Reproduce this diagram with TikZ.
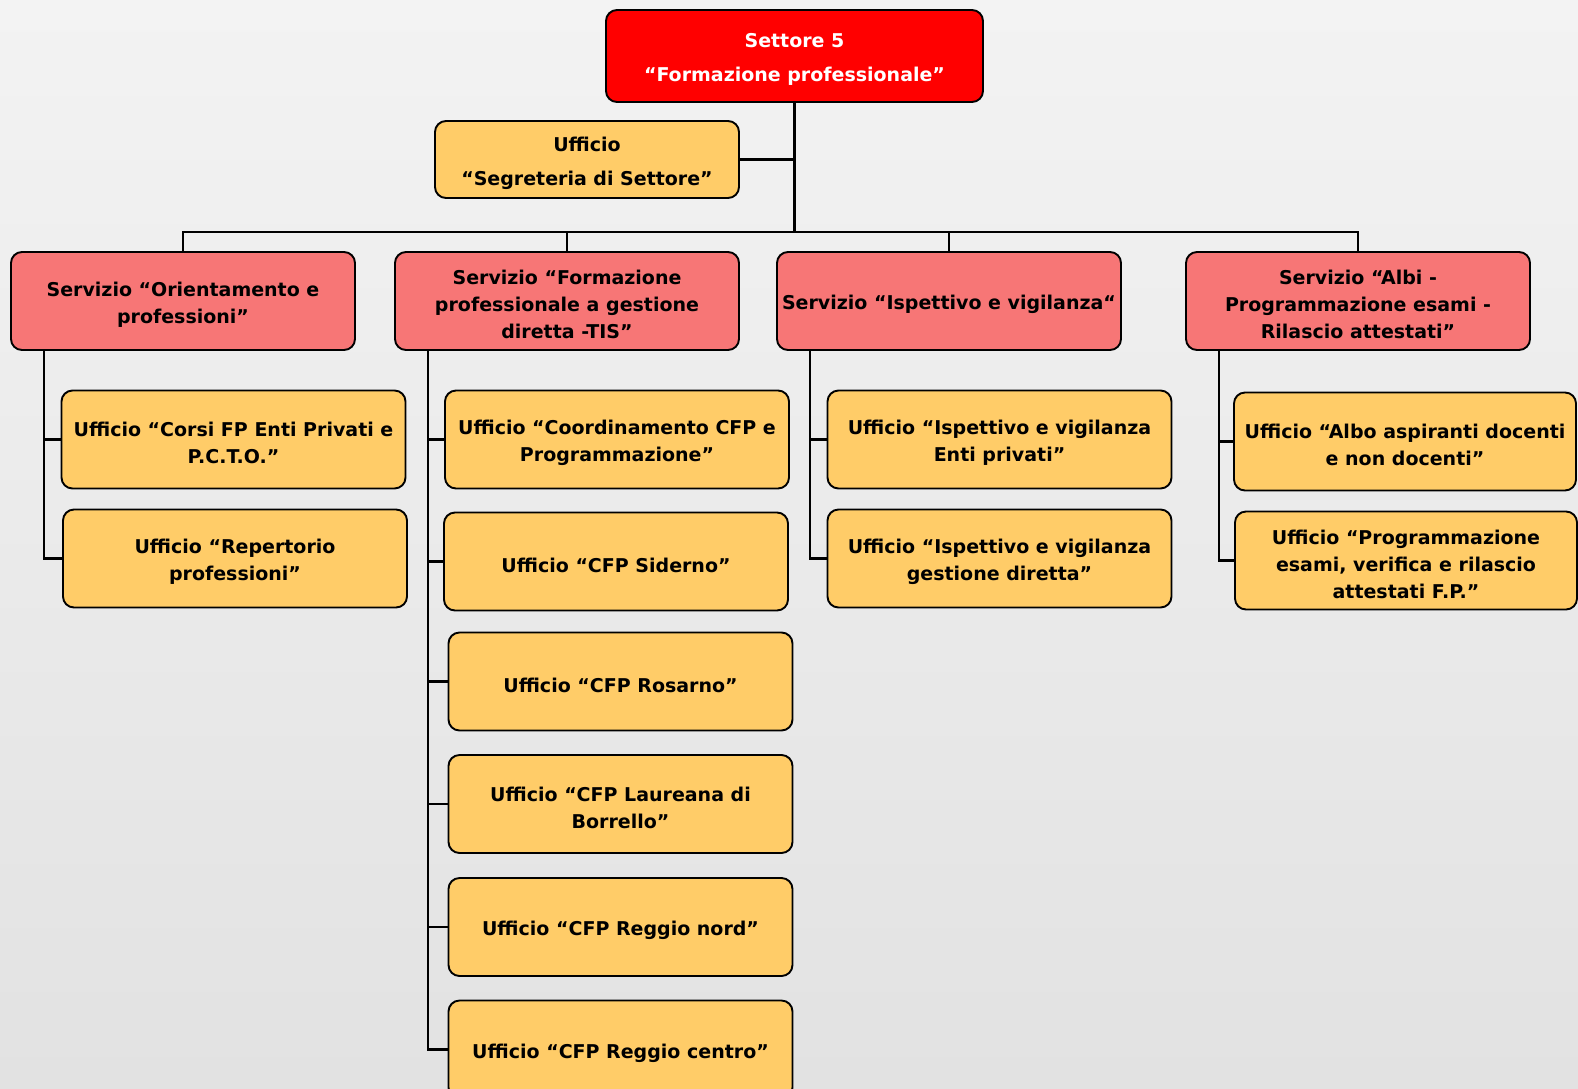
\documentclass[tikz,border=0pt]{standalone}
\usepackage{fontspec}
\setmainfont{DejaVu Sans}
\usetikzlibrary{calc}
\definecolor{bgtop}{RGB}{243,243,243}
\definecolor{bgbot}{RGB}{226,226,226}
\definecolor{topred}{RGB}{255,0,0}
\definecolor{srvpink}{RGB}{247,118,118}
\definecolor{uffyel}{RGB}{255,204,104}
\newcommand\textlift{\rule{0pt}{21.5pt}}
\begin{document}
\begin{tikzpicture}[x=1pt,y=-1pt,
  every node/.style={font=\bfseries\fontsize{19}{27}\selectfont, align=center, inner sep=0pt},
  basebox/.style={draw=black, line width=1.9pt, rounded corners=11pt},
  topbox/.style={basebox, fill=topred, text=white, minimum width=377pt, minimum height=92pt, font=\bfseries\fontsize{19}{34}\selectfont},
  segbox/.style={basebox, fill=uffyel, minimum width=304pt, minimum height=77pt, font=\bfseries\fontsize{19}{34}\selectfont},
  srvbox/.style={basebox, fill=srvpink, minimum width=344pt, minimum height=98pt},
  uffbox/.style={basebox, fill=uffyel, minimum width=344pt, minimum height=98pt},
  conn/.style={draw=black, line width=2.2pt}
]
\useasboundingbox (0,0) rectangle (1578,1088);
\clip (0,0) rectangle (1578,1088);
\shade[top color=bgtop, bottom color=bgbot] (0,0) rectangle (1578,1088);

\coordinate (bus) at (794.5,232);

% nodes
\node[topbox] (top) at (794.5,56) {\textlift Settore 5\\“Formazione professionale”};
\node[segbox] (seg) at (587,159.5) {\textlift Ufficio\\“Segreteria di Settore”};

\node[srvbox] (s1) at (183,301) {\textlift Servizio “Orientamento e\\professioni”};
\node[srvbox] (s2) at (567,301) {\textlift Servizio “Formazione\\professionale a gestione\\diretta -TIS”};
\node[srvbox] (s3) at (949,301) {\textlift Servizio “Ispettivo e vigilanza“};
\node[srvbox] (s4) at (1358,301) {\textlift Servizio “Albi -\\Programmazione esami -\\Rilascio attestati”};

\node[uffbox] (c1a) at (233.5,439.5) {\textlift Ufficio “Corsi FP Enti Privati e\\P.C.T.O.”};
\node[uffbox] (c1b) at (235,558.5) {\textlift Ufficio “Repertorio\\professioni”};

\node[uffbox] (c2a) at (617,439.5) {\textlift Ufficio “Coordinamento CFP e\\Programmazione”};
\node[uffbox] (c2b) at (616,561.5) {\textlift Ufficio “CFP Siderno”};
\node[uffbox] (c2c) at (620.5,681.5) {\textlift Ufficio “CFP Rosarno”};
\node[uffbox] (c2d) at (620.5,804) {\textlift Ufficio “CFP Laureana di\\Borrello”};
\node[uffbox] (c2e) at (620.5,927) {\textlift Ufficio “CFP Reggio nord”};
\node[uffbox] (c2f) at (620.5,1049.5) {\textlift Ufficio “CFP Reggio centro”};

\node[uffbox] (c3a) at (999.5,439.5) {\textlift Ufficio “Ispettivo e vigilanza\\Enti privati”};
\node[uffbox] (c3b) at (999.5,558.5) {\textlift Ufficio “Ispettivo e vigilanza\\gestione diretta”};

\node[uffbox, minimum width=342pt] (c4a) at (1405,441.5) {\textlift Ufficio “Albo aspiranti docenti\\e non docenti”};
\node[uffbox, minimum width=342pt] (c4b) at (1406,560.5) {\textlift Ufficio “Programmazione\\esami, verifica e rilascio\\attestati F.P.”};

% connectors
\draw[conn] (top.south) -- (bus);
\draw[conn] (seg.east) -- (seg.east -| top.south);
\draw[conn] (s1.north) -- (s1.north |- bus) -- (s4.north |- bus) -- (s4.north);
\draw[conn] (s2.north) -- (s2.north |- bus);
\draw[conn] (s3.north) -- (s3.north |- bus);

\draw[conn] ([xshift=34pt]s1.south west) |- (c1b.west);
\draw[conn] ([xshift=34pt]s1.south west) |- (c1a.west);

\draw[conn] ([xshift=34pt]s2.south west) |- (c2f.west);
\foreach \c in {c2a,c2b,c2c,c2d,c2e}{
  \draw[conn] ([xshift=34pt]s2.south west) |- (\c.west);
}

\draw[conn] ([xshift=34pt]s3.south west) |- (c3b.west);
\draw[conn] ([xshift=34pt]s3.south west) |- (c3a.west);

\draw[conn] ([xshift=34pt]s4.south west) |- (c4b.west);
\draw[conn] ([xshift=34pt]s4.south west) |- (c4a.west);
\end{tikzpicture}
\end{document}
